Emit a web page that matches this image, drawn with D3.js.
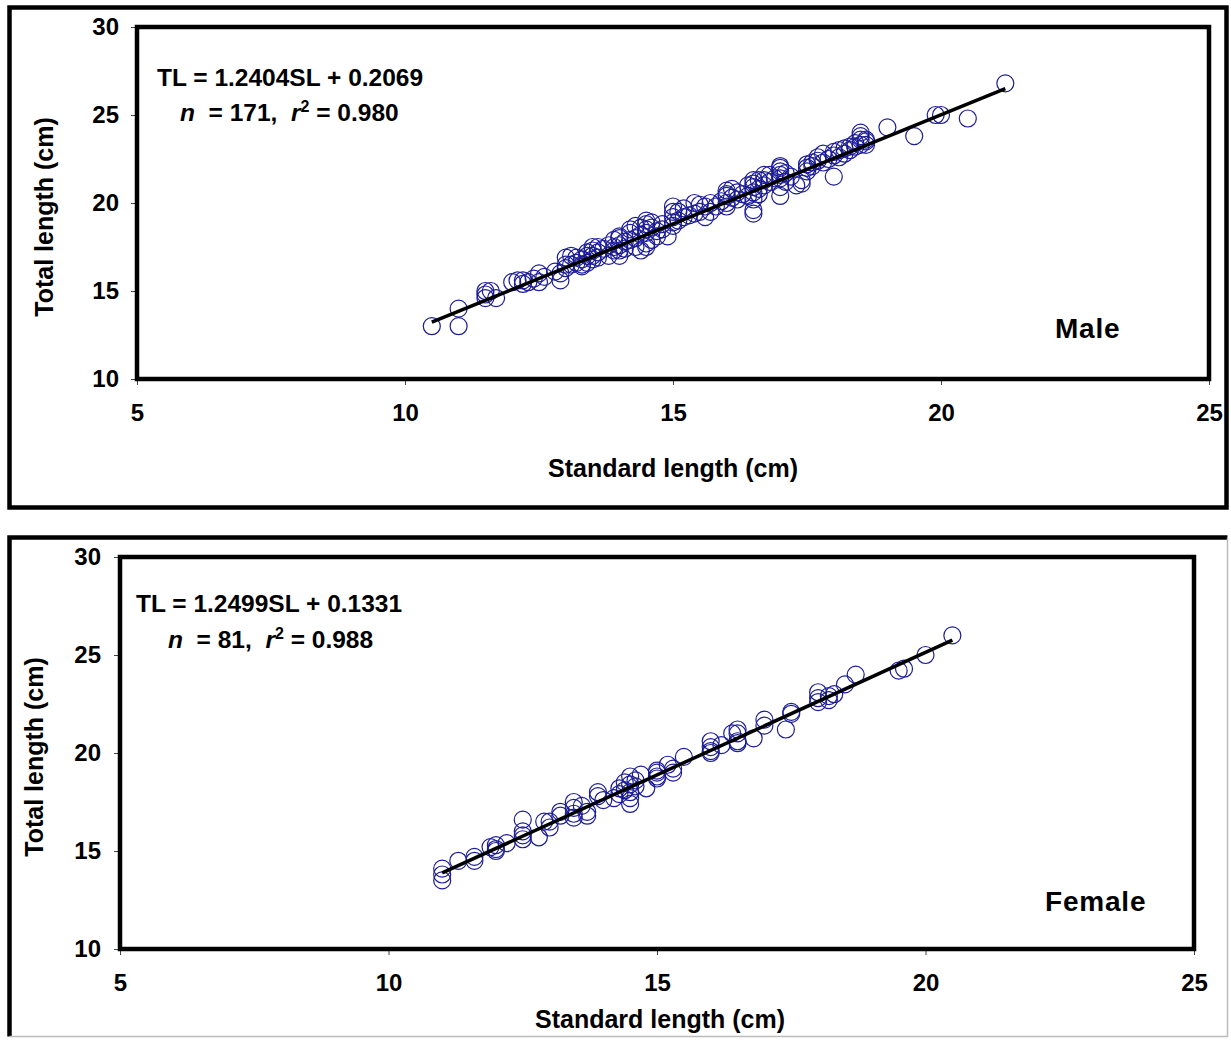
<!DOCTYPE html>
<html>
<head>
<meta charset="utf-8">
<script src="https://cdn.jsdelivr.net/npm/d3@7"></script>
<style>
  html, body { margin: 0; padding: 0; background: #fff; }
  svg text { font-family: "Liberation Sans", Arial, sans-serif; font-weight: bold; fill: #000; white-space: pre; }
</style>
</head>
<body>
<svg id="chart" width="1231" height="1041"></svg>
<script>
// Standard length (SL) vs total length (TL), males, in cm
const malePoints = [
  [10.5,13.0],[11.0,14.0],[11.0,13.0],[11.5,15.0],[11.5,14.8],[11.5,14.6],[11.7,14.6],[12.0,15.5],
  [12.1,15.6],[12.2,15.4],[12.3,15.5],[12.5,16.0],[12.5,15.5],[12.6,15.8],[12.9,15.6],[12.9,16.0],
  [13.0,16.3],[13.0,16.9],[13.1,17.0],[13.1,16.5],[13.2,16.6],[13.3,16.5],[13.3,16.8],[13.4,17.0],
  [13.4,16.6],[13.5,17.3],[13.5,17.0],[13.5,16.8],[13.6,17.5],[13.6,17.2],[13.7,17.4],[13.8,17.0],
  [13.9,17.9],[13.9,17.5],[14.0,17.0],[14.0,17.3],[14.0,18.0],[14.0,17.6],[14.1,17.8],[14.2,18.3],
  [14.2,18.5],[14.3,17.5],[14.3,18.0],[14.4,17.3],[14.4,18.6],[14.5,19.0],[14.5,18.3],[14.5,17.7],
  [14.5,18.8],[14.6,18.6],[14.6,17.9],[14.7,18.4],[14.8,18.8],[14.9,18.1],[15.0,19.8],[15.0,19.5],
  [15.0,19.2],[15.0,18.7],[15.1,19.0],[15.2,19.2],[15.3,19.3],[15.4,20.0],[15.5,19.5],[15.6,19.8],
  [15.6,19.2],[15.7,20.0],[15.8,19.8],[16.0,20.7],[16.0,20.5],[16.0,20.0],[16.0,19.8],[16.1,20.3],
  [16.2,20.2],[16.3,20.5],[16.4,21.0],[16.5,21.1],[16.5,20.6],[16.5,19.6],[16.5,19.4],[16.5,20.2],
  [16.6,21.3],[16.6,20.8],[16.7,21.6],[16.7,21.0],[16.8,21.2],[16.9,21.4],[17.0,22.1],[17.0,21.8],
  [17.0,21.4],[17.0,20.9],[17.0,20.4],[17.1,21.2],[17.3,21.0],[17.4,21.3],[17.5,22.2],[17.5,21.8],
  [17.6,22.3],[17.7,22.6],[17.8,22.8],[17.8,22.3],[18.0,21.5],[18.0,22.7],[18.1,23.0],[18.2,22.8],
  [18.3,23.2],[18.4,23.4],[18.5,24.0],[18.5,23.6],[18.6,23.5],[18.6,23.3],[19.0,24.3],[19.5,23.8],
  [19.9,25.0],[20.0,25.0],[20.5,24.8],[21.2,26.8],[11.6,15.0],[12.2,15.6],[12.4,15.7],[12.8,16.1],
  [13.0,16.5],[13.2,16.9],[13.4,17.2],[13.5,17.5],[13.6,16.9],[13.8,17.6],[13.9,17.3],[14.0,18.1],
  [14.1,17.4],[14.2,17.9],[14.3,18.7],[14.4,18.2],[14.5,18.5],[14.6,18.9],[14.7,18.1],[14.8,18.5],
  [15.0,18.9],[15.1,19.5],[15.2,19.7],[15.4,19.4],[15.5,19.9],[15.7,19.5],[15.9,20.1],[16.0,20.4],
  [16.1,20.8],[16.2,20.6],[16.4,20.4],[16.5,20.9],[16.5,21.3],[16.6,20.5],[16.7,21.3],[16.8,21.6],
  [17.0,21.6],[17.0,22.0],[17.1,21.7],[17.2,21.5],[17.4,21.1],[17.5,22.0],[17.6,22.1],[17.7,22.4],
  [17.9,22.5],[18.0,22.9],[18.1,22.6],[18.2,23.1],[18.3,23.0],[18.4,23.2],[18.5,23.8],[18.6,23.6],
  [18.5,23.3],[14.5,17.5],[13.3,16.4]
];

// Standard length (SL) vs total length (TL), females, in cm
const femalePoints = [
  [11.0,14.1],[11.0,13.5],[11.0,13.8],[11.3,14.5],[11.6,14.7],[11.6,14.5],[11.9,15.2],[12.0,15.0],
  [12.0,15.1],[12.5,16.6],[12.5,16.0],[12.5,15.6],[12.5,15.8],[12.8,15.7],[12.9,16.5],[13.0,16.2],
  [13.0,16.5],[13.2,16.8],[13.2,17.0],[13.45,17.5],[13.45,17.2],[13.45,16.7],[13.45,16.9],[13.7,17.0],
  [13.7,16.8],[13.9,17.8],[13.9,18.0],[14.0,17.6],[14.2,17.7],[14.3,18.2],[14.4,18.5],[14.4,18.1],
  [14.5,17.4],[14.5,17.7],[14.5,18.0],[14.5,18.8],[14.5,18.4],[14.6,18.6],[14.6,18.3],[14.8,18.2],
  [15.0,19.0],[15.0,18.7],[15.0,18.8],[15.2,19.4],[15.3,19.0],[15.3,19.2],[15.5,19.8],[16.0,20.6],
  [16.0,20.1],[16.0,20.3],[16.0,20.0],[16.4,21.0],[16.5,21.0],[16.5,20.6],[16.5,20.5],[16.5,21.2],
  [16.8,20.75],[17.0,21.7],[17.4,21.2],[17.5,22.1],[17.5,22.0],[18.0,23.1],[18.0,22.6],[18.0,22.8],
  [18.2,22.9],[18.2,22.7],[18.5,23.5],[18.7,24.0],[19.5,24.2],[19.6,24.3],[20.0,25.0],[20.5,26.0],
  [12.0,15.3],[12.2,15.4],[13.6,17.3],[14.3,17.9],[14.7,18.9],[15.0,19.1],[16.2,20.4],[17.0,21.4],
  [18.3,23.0]
];

// Fitted relationships: [slope, intercept], and SL range the fit line spans
const maleFit = [1.2404, 0.2069];
const femaleFit = [1.2499, 0.1331];
const maleFitRange = [10.5, 21.2];
const femaleFitRange = [11.0, 20.5];

const xTicks = [5, 10, 15, 20, 25];
const yTicks = [10, 15, 20, 25, 30];
const xDomain = [5, 25];
const yDomain = [10, 30];

const maleStats = { eq: "TL = 1.2404SL + 0.2069", n: "171", r2: "0.980", label: "Male" };
const femaleStats = { eq: "TL = 1.2499SL + 0.1331", n: "81", r2: "0.988", label: "Female" };

const svg = d3.select("#chart");
const markerColor = "#1c1c96";
const FONT = "'Liberation Sans', Arial, sans-serif";

function drawPanel(cfg) {
  const g = svg.append("g");

  // outer frame
  const o = cfg.outer;
  if (cfg.outerFull) {
    g.append("rect").attr("x", o.x).attr("y", o.y).attr("width", o.w).attr("height", o.h)
      .attr("fill", "none").attr("stroke", "#000").attr("stroke-width", 4.5);
  } else {
    g.append("path")
      .attr("d", `M${o.x},${o.y + o.h} V${o.y} H${o.x + o.w}`)
      .attr("fill", "none").attr("stroke", "#000").attr("stroke-width", 4.5);
    g.append("path")
      .attr("d", `M${o.x + o.w},${o.y} V${o.y + o.h} H${o.x}`)
      .attr("fill", "none").attr("stroke", "#bbb").attr("stroke-width", 1.5);
  }

  const p = cfg.plot;
  const x = d3.scaleLinear().domain(xDomain).range([p.x0, p.x1]);
  const y = d3.scaleLinear().domain(yDomain).range([p.y1, p.y0]);

  // axes with small outside ticks
  const xAxis = g.append("g").attr("transform", `translate(0,${p.y1})`)
    .call(d3.axisBottom(x).tickValues(xTicks).tickSize(6).tickPadding(cfg.xPad).tickFormat(d3.format("d")));
  const yAxis = g.append("g").attr("transform", `translate(${p.x0},0)`)
    .call(d3.axisLeft(y).tickValues(yTicks).tickSize(6).tickPadding(cfg.yPad).tickFormat(d3.format("d")));
  [xAxis, yAxis].forEach(a => {
    a.select(".domain").remove();
    a.selectAll(".tick line").attr("stroke", "#444").attr("stroke-width", 1);
    a.selectAll(".tick text").style("font-size", "24px").style("font-family", FONT)
      .style("font-weight", "bold").attr("fill", "#000");
  });

  // plot-area frame
  g.append("rect").attr("x", p.x0).attr("y", p.y0).attr("width", p.x1 - p.x0).attr("height", p.y1 - p.y0)
    .attr("fill", "none").attr("stroke", "#000").attr("stroke-width", 4.5);

  // data markers
  g.append("g").selectAll("circle").data(cfg.points).join("circle")
    .attr("cx", d => x(d[0])).attr("cy", d => y(d[1])).attr("r", 8.5)
    .attr("fill", "none").attr("stroke", markerColor).attr("stroke-width", 1.2);

  // regression line
  const fitLine = d3.line().x(d => x(d)).y(d => y(cfg.fit[0] * d + cfg.fit[1]));
  g.append("path").attr("d", fitLine(cfg.fitRange))
    .attr("stroke", "#000").attr("stroke-width", 3.5).attr("fill", "none");

  // axis titles
  g.append("text").attr("x", cfg.xTitle[0]).attr("y", cfg.xTitle[1]).attr("text-anchor", "middle")
    .style("font-size", "25px").text("Standard length (cm)");
  g.append("text").attr("transform", `translate(${cfg.yTitle[0]},${cfg.yTitle[1]}) rotate(-90)`)
    .attr("text-anchor", "middle").style("font-size", "25px").text("Total length (cm)");

  // equation and statistics
  g.append("text").attr("x", cfg.eq1[0]).attr("y", cfg.eq1[1]).style("font-size", "24.5px").text(cfg.stats.eq);
  const t2 = g.append("text").attr("x", cfg.eq2[0]).attr("y", cfg.eq2[1]).style("font-size", "24.5px");
  t2.append("tspan").style("font-style", "italic").text("n");
  t2.append("tspan").text(`  = ${cfg.stats.n},  `);
  t2.append("tspan").style("font-style", "italic").text("r");
  t2.append("tspan").attr("dy", -9).style("font-size", "16px").text("2");
  t2.append("tspan").attr("dy", 9).text(` = ${cfg.stats.r2}`);

  // sex label
  g.append("text").attr("x", cfg.sexPos[0]).attr("y", cfg.sexPos[1]).style("font-size", "28px")
    .style("letter-spacing", "0.8px").text(cfg.stats.label);
}

drawPanel({
  outer: { x: 9.5, y: 7.5, w: 1217, h: 500 }, outerFull: true,
  plot: { x0: 137, x1: 1209, y0: 27, y1: 379 },
  xPad: 19, yPad: 12,
  points: malePoints, fit: maleFit, fitRange: maleFitRange,
  xTitle: [673, 477], yTitle: [53, 217],
  eq1: [157, 86], eq2: [180, 121], sexPos: [1055, 338],
  stats: maleStats
});

drawPanel({
  outer: { x: 9.5, y: 537.5, w: 1218, h: 499 }, outerFull: false,
  plot: { x0: 120, x1: 1194, y0: 557, y1: 949 },
  xPad: 19, yPad: 13,
  points: femalePoints, fit: femaleFit, fitRange: femaleFitRange,
  xTitle: [660, 1028], yTitle: [43, 757],
  eq1: [136, 612], eq2: [168, 648], sexPos: [1045, 911],
  stats: femaleStats
});
</script>
</body>
</html>
